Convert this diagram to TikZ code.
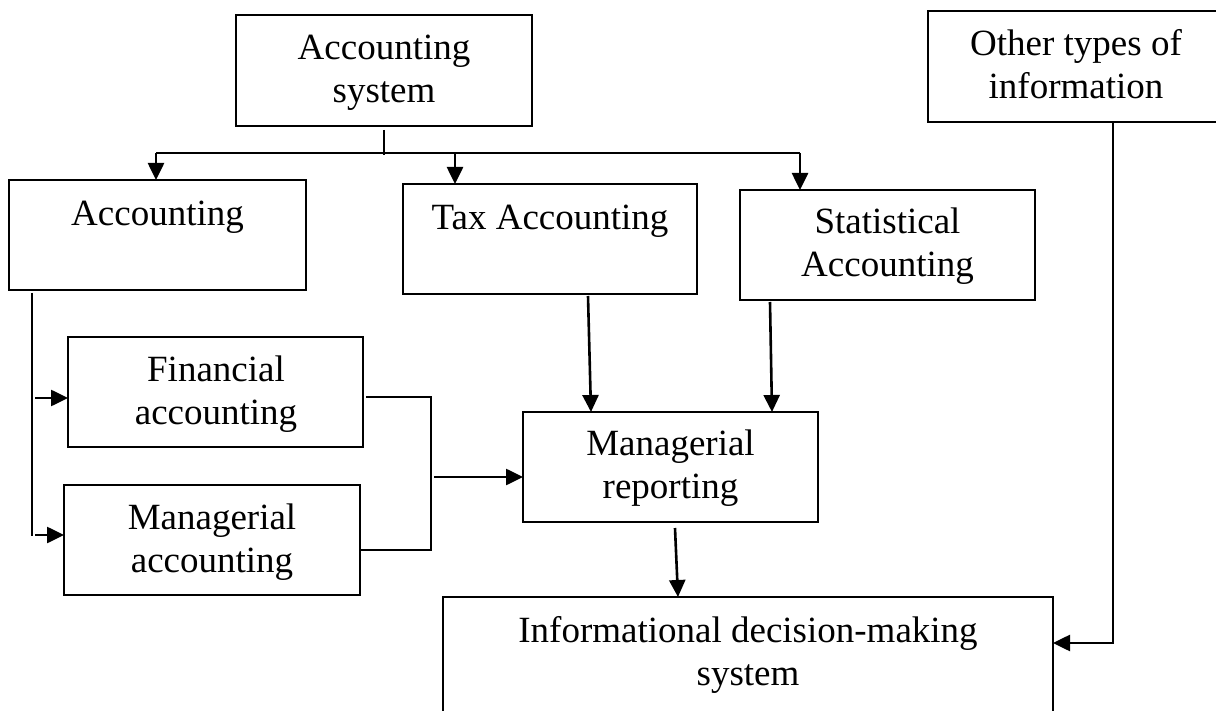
\documentclass[tikz,border=0pt]{standalone}
\usepackage{fontspec}
\setmainfont{Liberation Serif}
\usetikzlibrary{arrows.meta,calc}
\tikzset{
  box/.style={draw, line width=1.6pt, inner sep=0pt, outer sep=0pt, rectangle},
  txt/.style={align=center, inner sep=0pt, anchor=base, font=\fontsize{37}{43}\selectfont},
  arr/.style={line width=2.6pt, -{Triangle[length=17pt,width=16pt]}},
  thinl/.style={line width=1.5pt},
  busl/.style={line width=2pt}
}
\begin{document}
\begin{tikzpicture}[x=1pt,y=-1pt]
\clip (0,0) rectangle (1216,711);
\fill[white] (0,0) rectangle (1216,711);
% boxes
\node[box, minimum width=296pt, minimum height=111pt] (sys) at (384,70.5) {};
\node[box, minimum width=297pt, minimum height=110pt] (acc) at (157.5,235) {};
\node[box, minimum width=294pt, minimum height=110pt] (tax) at (550,239) {};
\node[box, minimum width=295pt, minimum height=110pt] (stat) at (887.5,245) {};
\node[box, minimum width=302pt, minimum height=111pt] (other) at (1079,66.5) {};
\node[box, minimum width=295pt, minimum height=110pt] (fin) at (215.5,392) {};
\node[box, minimum width=296pt, minimum height=110pt] (mgr) at (212,540) {};
\node[box, minimum width=295pt, minimum height=110pt] (rep) at (670.5,467) {};
\node[box, minimum width=610pt, minimum height=123pt] (info) at (748,658.5) {};
% texts (anchor = baseline of the last line)
\node[txt] (tsys) at (384,103) {Accounting\\system};
\node[txt] (tacc) at (157.5,226) {Accounting};
\node[txt] (ttax) at (550,230) {Tax Accounting};
\node[txt] (tstat) at (887.5,277) {Statistical\\Accounting};
\node[txt] (tother) at (1076,99) {Other types of\\information};
\node[txt] (tfin) at (216,424) {Financial\\accounting};
\node[txt] (tmgr) at (212,572) {Managerial\\accounting};
\node[txt] (trep) at (670.5,498) {Managerial\\reporting};
\node[txt] (tinfo) at (748,685) {Informational decision-making\\system};
% top distribution
\draw[thinl] ([yshift=-4pt]sys.south) -- ([yshift=-29pt]sys.south);
\coordinate (busL) at (156,153);
\coordinate (busR) at (800,153);
\coordinate (busT) at (455,153);
\draw[busl] (busL) -- (busR);
\draw[arr] (busL) -- (busL |- acc.north);
\draw[arr] (busT) -- (busT |- tax.north);
\draw[arr] (busR) -- (busR |- stat.north);
% accounting split
\coordinate (aTop) at (32,293);
\coordinate (aBot) at (32,536);
\draw[thinl] (aTop) -- (aBot);
\coordinate (fa) at (35,398);
\coordinate (ma) at (35,535);
\draw[arr] (fa) -- (fa -| fin.west);
\draw[arr] (ma) -- (ma -| mgr.west);
% bracket
\coordinate (brT) at (431,397);
\coordinate (brB) at (431,550);
\draw[busl] ([xshift=3pt]fin.east |- brT) -- (brT) -- (brB) -- (brB -| mgr.east);
\coordinate (brM) at (434,477);
\draw[arr] (brM) -- (brM -| rep.west);
% into reporting
\draw[arr] ($(tax.south west)+(185,2)$) -- ($(rep.north west)+(68,0)$);
\draw[arr] ($(stat.south west)+(30,2)$) -- ($(rep.north west)+(249,0)$);
% into informational system
\draw[arr] ($(rep.south west)+(152,6)$) -- ($(info.north west)+(235,0)$);
\coordinate (oc) at (1113,643);
\draw[arr] (oc |- other.south) -- (oc) -- (oc -| info.east);
\end{tikzpicture}
\end{document}
